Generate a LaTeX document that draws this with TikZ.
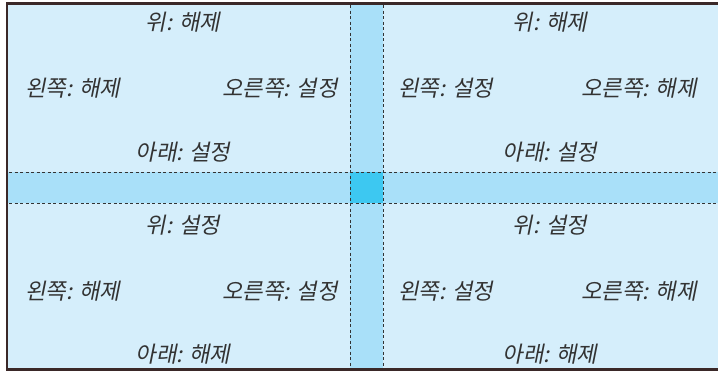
\documentclass[tikz,border=0pt]{standalone}
\usepackage{fontspec}
\newfontfamily\kr[FakeSlant=0.2]{Noto Sans CJK KR}
\definecolor{bgl}{HTML}{D5EEFB}
\definecolor{band}{HTML}{A9E0F9}
\definecolor{ctr}{HTML}{3DC8F1}
\definecolor{frm}{HTML}{3A2828}
\definecolor{txt}{HTML}{333333}
\tikzset{lbl/.style={inner sep=0pt,text=txt,font=\kr\fontsize{22.3}{26}\selectfont},
  dl/.style={draw=black!80,line width=0.9pt,dash pattern=on 3pt off 2.5pt}}
\begin{document}
\begin{tikzpicture}[x=1pt,y=-1pt]
\useasboundingbox (0,0) rectangle (718,372);
\fill[white] (0,0) rectangle (718,372);
\fill[bgl] (8,4) rectangle (718,369);
\fill[band] (350,4) rectangle (383,369);
\fill[band] (8,172) rectangle (718,203);
\fill[ctr] (350,172) rectangle (383,203);
\draw[dl] (350,5) -- (350,368);
\draw[dl] (383,5) -- (383,368);
\draw[dl] (9,172) -- (718,172);
\draw[dl] (9,203) -- (718,203);
\draw[frm,line width=2.5pt] (718,3.5) -- (7,3.5) -- (7,369.5) -- (718,369.5);
% top-left
\node[lbl] (tlu) at (183,22) {위: 해제};
\node[lbl,anchor=west] (tll) at (25,88) {왼쪽: 해제};
\node[lbl,anchor=east] (tlr) at (338,88) {오른쪽: 설정};
\node[lbl] (tld) at (183,152) {아래: 설정};
% top-right
\node[lbl] (tru) at (550,22) {위: 해제};
\node[lbl,anchor=west] (trl) at (398,88) {왼쪽: 설정};
\node[lbl,anchor=east] (trr) at (697,88) {오른쪽: 해제};
\node[lbl] (trd) at (550,152) {아래: 설정};
% bottom-left
\node[lbl] (blu) at (183,225) {위: 설정};
\node[lbl,anchor=west] (bll) at (25,291) {왼쪽: 해제};
\node[lbl,anchor=east] (blr) at (338,291) {오른쪽: 설정};
\node[lbl] (bld) at (183,354) {아래: 해제};
% bottom-right
\node[lbl] (bru) at (550,225) {위: 설정};
\node[lbl,anchor=west] (brl) at (398,291) {왼쪽: 설정};
\node[lbl,anchor=east] (brr) at (697,291) {오른쪽: 해제};
\node[lbl] (brd) at (550,354) {아래: 해제};
\end{tikzpicture}
\end{document}
